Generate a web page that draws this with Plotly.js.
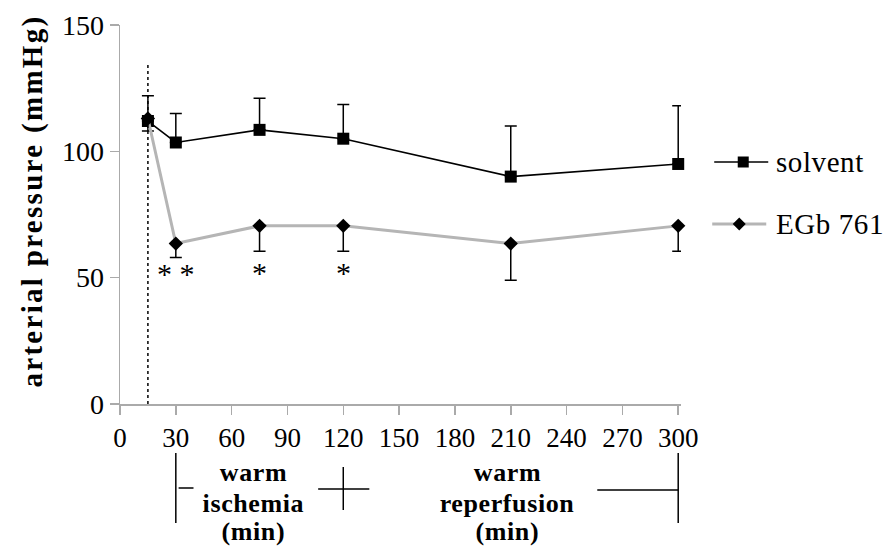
<!DOCTYPE html>
<html>
<head>
<meta charset="utf-8">
<script src="https://cdn.plot.ly/plotly-3.0.1.min.js"></script>
<style>
html,body{margin:0;padding:0;background:#fff;}
#chart{width:887px;height:548px;}
g.annotation[data-index="3"] text{letter-spacing:2.3px;}
g.annotation[data-index="4"] text, g.annotation[data-index="5"] text, g.annotation[data-index="6"] text,
g.annotation[data-index="7"] text, g.annotation[data-index="8"] text, g.annotation[data-index="9"] text{letter-spacing:0.6px;}
g.annotation[data-index="10"] text, g.annotation[data-index="11"] text{letter-spacing:0.6px;}
</style>
</head>
<body>
<div id="chart"></div>
<script>
// Data
const timeMin = [15, 30, 75, 120, 210, 300];
const solventMean = [112, 103.5, 108.5, 105, 90, 95];
const solventErrUp = [10, 11.5, 12.5, 13.5, 20, 23];
const egbMean = [113, 63.5, 70.5, 70.5, 63.5, 70.5];
const egbErrDown = [5, 5.5, 10, 10, 14.5, 10];
const xTickVals = [0, 30, 60, 90, 120, 150, 180, 210, 240, 270, 300];
const yTickVals = [0, 50, 100, 150];
const sigX = [30, 75, 120];
const sigLabels = ['* *', '*', '*'];
const sigY = [51.5, 52, 52];
const seriesNames = ['solvent', 'EGb 761'];

const zeros = timeMin.map(() => 0);
const FONT = 'Liberation Serif, Times New Roman, serif';
const SOLVENT_COLOR = '#000';
const EGB_COLOR = '#b5b5b5';

const traces = [
  {
    x: timeMin, y: solventMean, name: seriesNames[0], mode: 'lines+markers', type: 'scatter',
    line: {color: SOLVENT_COLOR, width: 1.6},
    marker: {symbol: 'square', size: 12, color: '#000'},
    error_y: {type: 'data', array: solventErrUp, arrayminus: zeros, symmetric: false, color: '#000', thickness: 1.5, width: 6},
    cliponaxis: false, showlegend: false
  },
  {
    x: timeMin, y: egbMean, name: seriesNames[1], mode: 'lines+markers', type: 'scatter',
    line: {color: EGB_COLOR, width: 3},
    marker: {symbol: 'diamond', size: 11, color: '#000'},
    error_y: {type: 'data', array: zeros, arrayminus: egbErrDown, symmetric: false, color: '#000', thickness: 1.5, width: 6},
    cliponaxis: false, showlegend: false
  }
];

// plot area in pixels: x 120..~680, y 25..404
const PX_W = 558 * 301.5 / 300, PX_H = 379;
const px = v => (v - 120) / PX_W;          // page x -> paper x
const py = v => (404 - v) / PX_H;          // page y -> paper y

const annotations = sigX.map((x, i) => ({
  x: x, y: sigY[i], xref: 'x', yref: 'y', text: sigLabels[i], showarrow: false,
  font: {family: FONT, size: 30, color: '#000'}, yanchor: 'middle'
}));
// y-axis title (index 3)
annotations.push({
  x: px(32), y: py(201), xref: 'paper', yref: 'paper', showarrow: false, textangle: -90,
  text: '<b>arterial pressure (mmHg)</b>', font: {family: FONT, size: 29, color: '#000'},
  xanchor: 'center', yanchor: 'middle'
});
// bottom phase labels (indices 4..9)
const phaseLines = [['warm', 'ischemia', '(min)'], ['warm', 'reperfusion', '(min)']];
const phaseX = [72, 208.5];
const phaseY = [472, 503, 531];
phaseLines.forEach((lines, k) => {
  lines.forEach((t, j) => {
    annotations.push({
      x: phaseX[k], y: py(phaseY[j]), xref: 'x', yref: 'paper', showarrow: false,
      text: '<b>' + t + '</b>', font: {family: FONT, size: 26, color: '#000'},
      xanchor: 'center', yanchor: 'middle', borderpad: 0
    });
  });
});
// legend texts (indices 10, 11)
const legY = [162, 224];
seriesNames.forEach((n, i) => {
  annotations.push({
    x: px(776), y: py(legY[i]), xref: 'paper', yref: 'paper', showarrow: false,
    text: n, font: {family: FONT, size: 29, color: '#000'}, xanchor: 'left', yanchor: 'middle'
  });
});

const ln = {color: '#000', width: 1.5};
const shapes = [
  {type: 'line', xref: 'x', yref: 'y', x0: 15, x1: 15, y0: 0, y1: 135, line: {color: '#000', width: 1.5, dash: 'dot'}},
  {type: 'line', xref: 'x', yref: 'paper', x0: 30, x1: 30, y0: py(453), y1: py(523), line: ln},
  {type: 'line', xref: 'x', yref: 'paper', x0: 31.5, x1: 39.5, y0: py(488), y1: py(488), line: ln},
  {type: 'line', xref: 'x', yref: 'paper', x0: 120, x1: 120, y0: py(467), y1: py(510), line: ln},
  {type: 'line', xref: 'x', yref: 'paper', x0: 106.5, x1: 134, y0: py(489), y1: py(489), line: ln},
  {type: 'line', xref: 'x', yref: 'paper', x0: 256.5, x1: 300, y0: py(490), y1: py(490), line: ln},
  {type: 'line', xref: 'x', yref: 'paper', x0: 300, x1: 300, y0: py(453), y1: py(523), line: ln},
  // legend keys
  {type: 'line', xref: 'paper', yref: 'paper', x0: px(714), x1: px(768), y0: py(legY[0]), y1: py(legY[0]), line: {color: SOLVENT_COLOR, width: 1.6}},
  {type: 'rect', xref: 'paper', yref: 'paper', x0: px(737.5), x1: px(748.5), y0: py(legY[0] - 5.5), y1: py(legY[0] + 5.5), line: {width: 0}, fillcolor: '#000'},
  {type: 'line', xref: 'paper', yref: 'paper', x0: px(712), x1: px(766), y0: py(legY[1]), y1: py(legY[1]), line: {color: EGB_COLOR, width: 3}},
  {type: 'path', xref: 'paper', yref: 'paper',
   path: 'M' + px(739) + ',' + py(legY[1] - 6.5) + ' L' + px(745.5) + ',' + py(legY[1]) + ' L' + px(739) + ',' + py(legY[1] + 6.5) + ' L' + px(732.5) + ',' + py(legY[1]) + ' Z',
   line: {width: 0}, fillcolor: '#000'}
];

const layout = {
  width: 887, height: 548,
  margin: {l: 120, r: 887 - 120 - PX_W, t: 25, b: 144},
  paper_bgcolor: '#fff', plot_bgcolor: '#fff',
  font: {family: FONT, color: '#000'},
  showlegend: false,
  xaxis: {
    range: [0, 301.5], tickvals: xTickVals, ticktext: xTickVals.map(String),
    showgrid: false, zeroline: false, showline: true, linecolor: '#aaa', linewidth: 1.5,
    ticks: 'outside', ticklen: 9, tickcolor: '#aaa', tickwidth: 1.5,
    tickfont: {family: FONT, size: 27, color: '#000'}
  },
  yaxis: {
    range: [0, 150], tickvals: yTickVals,
    showgrid: false, zeroline: false, showline: true, linecolor: '#aaa', linewidth: 1.5,
    ticks: 'outside', ticklen: 9, tickcolor: '#aaa', tickwidth: 1.5,
    tickfont: {family: FONT, size: 28, color: '#000'},
    title: {text: ''}
  },
  annotations: annotations,
  shapes: shapes
};

Plotly.newPlot('chart', traces, layout, {displayModeBar: false, staticPlot: true});
</script>
</body>
</html>
